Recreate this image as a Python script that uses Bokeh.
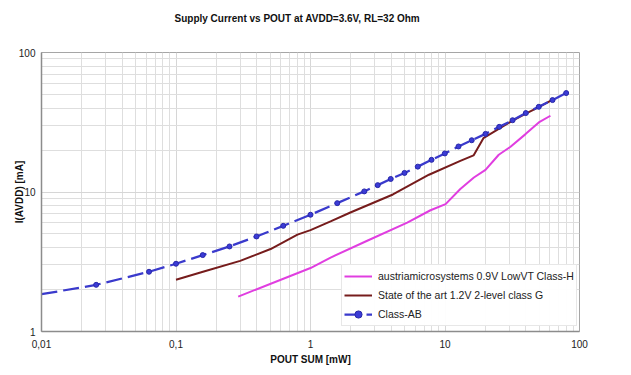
from bokeh.plotting import figure
from bokeh.models import FixedTicker, Legend, LegendItem, Title
from bokeh.embed import file_html
from bokeh.resources import INLINE

# ---- data ----
# Class-AB (blue dashed, markers); first point is the line start at the left edge
ab_pout = [0.01, 0.0255, 0.063, 0.1, 0.158, 0.25, 0.397, 0.627, 1.0, 1.58, 2.51,
           3.16, 3.95, 5.0, 6.28, 7.94, 9.97, 12.6, 15.8, 20.0, 25.3, 31.8, 39.9,
           49.8, 63.0, 79.6]
ab_idd = [1.85, 2.16, 2.68, 3.06, 3.53, 4.07, 4.8, 5.72, 6.87, 8.32, 10.1,
          11.2, 12.4, 13.7, 15.2, 17.0, 18.9, 21.2, 23.5, 26.1, 29.3, 32.7, 36.8,
          40.8, 45.6, 51.2]

# State of the art 1.2V 2-level class G (brown)
g_pout = [0.1, 0.161, 0.3, 0.505, 0.8, 1.0, 1.41, 1.98, 4.1, 7.6, 13.0, 16.3,
          19.3, 31.6, 39.9, 49.8, 62.7]
g_idd = [2.35, 2.69, 3.21, 3.9, 4.95, 5.33, 6.15, 7.13, 9.6, 13.3, 16.7, 18.3,
         24.3, 32.4, 36.5, 40.6, 45.8]

# austriamicrosystems 0.9V LowVT Class-H (magenta)
h_pout = [0.29, 1.0, 1.41, 2.64, 5.24, 7.8, 10.1, 13.0, 16.4, 20.0, 25.1, 30.7,
          39.7, 49.8, 60.8]
h_idd = [1.78, 2.85, 3.39, 4.47, 6.04, 7.4, 8.19, 10.5, 12.7, 14.4, 18.5, 21.1,
         26.0, 31.5, 35.2]

series_names = ["austriamicrosystems 0.9V LowVT Class-H",
                "State of the art 1.2V 2-level class G",
                "Class-AB"]

x_ticks = [0.01, 0.1, 1, 10, 100]
x_tick_labels = ["0,01", "0,1", "1", "10", "100"]
y_ticks = [1, 10, 100]
y_tick_labels = ["1", "10", "100"]

FONT = "Liberation Sans"

p = figure(x_axis_type="log", y_axis_type="log",
           x_range=(0.01, 100), y_range=(1, 100),
           frame_width=538, frame_height=279,
           min_border_left=41, min_border_right=52,
           min_border_top=52, min_border_bottom=44,
           output_backend="svg", toolbar_location=None,
           background_fill_color="white", border_fill_color="white")

# title (outermost); an empty spacer title sits between it and the frame
p.title.text = "Supply Current vs POUT at AVDD=3.6V, RL=32 Ohm"
p.title.align = "left"
p.title.offset = 133
p.title.vertical_align = "bottom"
p.title.standoff = 0
p.title.text_font = FONT
p.title.text_font_size = "10px"
p.title.text_font_style = "bold"
p.title.text_color = "#111111"
p.add_layout(Title(text=" ", text_font_size="2px", standoff=25), "above")

# ticks
x_minor = [m * 10.0 ** e for e in range(-2, 2) for m in range(2, 10)]
y_minor = [m * 10.0 ** e for e in range(0, 2) for m in range(2, 10)]
p.xaxis.ticker = FixedTicker(ticks=x_ticks, minor_ticks=x_minor)
p.yaxis.ticker = FixedTicker(ticks=y_ticks, minor_ticks=y_minor)
p.xaxis.major_label_overrides = dict(zip(x_ticks, x_tick_labels))
p.yaxis.major_label_overrides = dict(zip(y_ticks, y_tick_labels))

for ax in (p.xaxis, p.yaxis):
    ax.major_tick_out = 0
    ax.major_tick_in = 0
    ax.minor_tick_out = 0
    ax.minor_tick_in = 0
    ax.axis_line_color = "#8c8c8c"
    ax.axis_line_width = 1.5
    ax.major_label_text_font = FONT
    ax.major_label_text_font_size = "10px"
    ax.major_label_text_color = "#222222"
    ax.axis_label_text_font = FONT
    ax.axis_label_text_font_size = "10px"
    ax.axis_label_text_font_style = "bold"
    ax.axis_label_text_color = "#111111"

p.xaxis.axis_label = "POUT SUM [mW]"
p.xaxis.major_label_standoff = 8
p.xaxis.axis_label_standoff = 3
p.yaxis.axis_label = "I(AVDD) [mA]"
p.yaxis.major_label_standoff = 6
p.yaxis.axis_label_standoff = -9

# grid
for g in (p.xgrid, p.ygrid):
    g.grid_line_color = "#d6d6d6"
    g.grid_line_width = 1
    g.minor_grid_line_color = "#dedede"
    g.minor_grid_line_width = 1

p.outline_line_color = "#a6a6a6"
p.outline_line_width = 1

# series
r_h = p.line(h_pout, h_idd, line_color="#e03ee0", line_width=2)
r_g = p.line(g_pout, g_idd, line_color="#761c1c", line_width=2)
r_ab = p.line(ab_pout, ab_idd, line_color="#3a3acc", line_width=2.25,
              line_dash="16 6")
r_abm = p.scatter(ab_pout[1:], ab_idd[1:], marker="circle", size=5,
                  fill_color="#3b3bd6", line_color="#2828a8", line_width=1)

legend = Legend(items=[
    LegendItem(label=series_names[0], renderers=[r_h]),
    LegendItem(label=series_names[1], renderers=[r_g]),
    LegendItem(label=series_names[2], renderers=[r_ab, r_abm]),
], location=(300, 5))
legend.label_text_font = FONT
legend.label_text_font_size = "10.5px"
legend.label_text_color = "#222222"
legend.padding = 2
legend.spacing = 1
legend.margin = 0
legend.glyph_width = 28
legend.glyph_height = 18
legend.label_height = 18
legend.label_standoff = 6
legend.label_width = 196
legend.border_line_color = "#cfcfcf"
legend.border_line_width = 1
legend.background_fill_color = "white"
legend.background_fill_alpha = 0.95
p.add_layout(legend, "center")

open("out.html", "w").write(file_html(p, INLINE))
